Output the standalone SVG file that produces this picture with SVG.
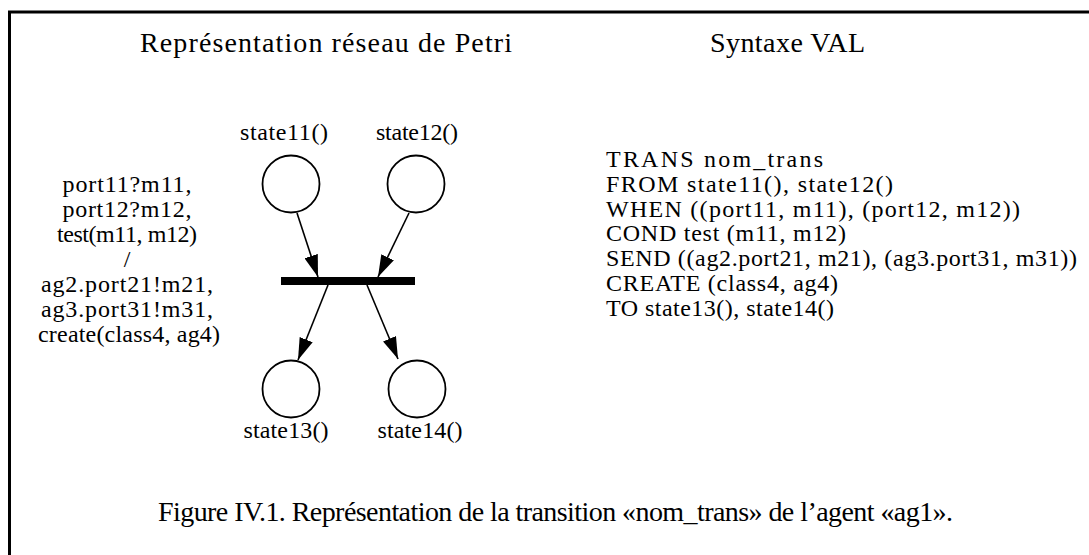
<svg xmlns="http://www.w3.org/2000/svg" width="1089" height="555" viewBox="0 0 1089 555">
<style>
text{font-family:"Liberation Serif","Times New Roman",serif;fill:#000}
.t{font-size:28px}
.s{font-size:24px}
.m{text-anchor:middle}
.place{fill:#fff;stroke:#000;stroke-width:1.8}
.arc{stroke:#000;stroke-width:1.6;fill:none;marker-end:url(#ah)}
</style>
<defs>
<marker id="ah" markerUnits="userSpaceOnUse" markerWidth="22" markerHeight="14" refX="22" refY="7" orient="auto">
<path d="M0,0 L22,7 L0,14 z" fill="#000"/>
</marker>
</defs>
<rect width="1089" height="555" fill="#fff"/>
<path d="M9.5,555 V12 H1089" fill="none" stroke="#000" stroke-width="3"/>
<g id="titles">
<text class="t" x="140" y="52" textLength="372">Représentation réseau de Petri</text>
<text class="t" x="710" y="52" textLength="155">Syntaxe VAL</text>
</g>
<g id="state11"><circle class="place" cx="291" cy="184" r="28.5"/><text class="s m" x="284" y="140" textLength="88">state11()</text></g>
<g id="state12"><circle class="place" cx="416" cy="184" r="28.5"/><text class="s m" x="417" y="140" textLength="82">state12()</text></g>
<g id="transition"><rect x="281" y="277" width="134" height="8" fill="#000"/></g>
<g id="state13"><circle class="place" cx="291" cy="389" r="28.5"/><text class="s m" x="286" y="438" textLength="85">state13()</text></g>
<g id="state14"><circle class="place" cx="417" cy="389" r="28.5"/><text class="s m" x="420" y="438" textLength="85">state14()</text></g>
<g id="connectors">
<line class="arc" x1="297" y1="213" x2="318" y2="277"/>
<line class="arc" x1="409" y1="213" x2="378" y2="277"/>
<line class="arc" x1="328" y1="285" x2="298" y2="360"/>
<line class="arc" x1="367" y1="285" x2="398" y2="359"/>
</g>
<g id="guard">
<text class="s m" x="127" y="192" textLength="129">port11?m11,</text>
<text class="s m" x="127" y="217" textLength="129">port12?m12,</text>
<text class="s m" x="127" y="242" textLength="140">test(m11, m12)</text>
<text class="s m" x="127" y="267">/</text>
<text class="s m" x="127" y="292" textLength="172">ag2.port21!m21,</text>
<text class="s m" x="127" y="317" textLength="172">ag3.port31!m31,</text>
<text class="s m" x="129" y="342" textLength="182">create(class4, ag4)</text>
</g>
<g id="val">
<text class="s" x="606" y="167" textLength="217">TRANS nom_trans</text>
<text class="s" x="606" y="192" textLength="287">FROM state11(), state12()</text>
<text class="s" x="606" y="217" textLength="414">WHEN ((port11, m11), (port12, m12))</text>
<text class="s" x="606" y="241" textLength="240">COND test (m11, m12)</text>
<text class="s" x="606" y="266" textLength="471">SEND ((ag2.port21, m21), (ag3.port31, m31))</text>
<text class="s" x="606" y="291" textLength="232">CREATE (class4, ag4)</text>
<text class="s" x="606" y="316" textLength="228">TO state13(), state14()</text>
</g>
<g id="caption">
<text class="t" x="158" y="521" textLength="795">Figure IV.1. Représentation de la transition «nom_trans» de l’agent «ag1».</text>
</g>
</svg>
